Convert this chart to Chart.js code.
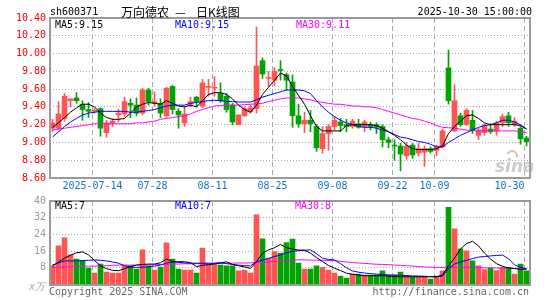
<!DOCTYPE html>
<html>
<head>
<meta charset="utf-8">
<script src="https://cdn.jsdelivr.net/npm/chart.js@4.4.1/dist/chart.umd.min.js"></script>
<style>
body { margin: 0; background: #fff; width: 545px; height: 300px; position: relative; overflow: hidden; font-family: "DejaVu Sans Mono", monospace; font-size: 10px; }
canvas { position: absolute; left: 0; top: 0; }
.t { position: absolute; white-space: pre; line-height: 12px; }
.cn { font-family: "Noto Sans CJK SC", sans-serif; font-size: 12px; line-height: 14px; }
</style>
</head>
<body>
<canvas id="kline" width="545" height="300"></canvas>
<canvas id="volume" width="545" height="300"></canvas>

<div class="t" style="left:50px;top:6px">sh600371</div>
<div class="t cn" style="left:121px;top:5px">万向德农</div>
<div class="t cn" style="left:175px;top:5px">—</div>
<div class="t cn" style="left:196px;top:5px">日K线图</div>
<div class="t" style="right:13px;top:6px">2025-10-30 15:00:00</div>

<div class="t" style="left:55px;top:19px;color:#000">MA5:9.15</div>
<div class="t" style="left:175px;top:19px;color:#0000ff">MA10:9.15</div>
<div class="t" style="left:296px;top:19px;color:#ff00ff">MA30:9.11</div>

<div class="t" style="left:55px;top:200px;color:#000">MA5:7</div>
<div class="t" style="left:175px;top:200px;color:#0000ff">MA10:7</div>
<div class="t" style="left:295px;top:200px;color:#ff00ff">MA30:8</div>

<div class="t" style="left:29px;top:281px;color:#aaa;font-style:italic">x万</div>
<div class="t" style="left:49px;top:286px;color:#666">Copyright 2025 SINA.COM</div>
<div class="t" style="right:16px;top:286px;color:#666">http://finance.sina.com.cn</div>

<script>
// 2025-07-03 .. 2025-10-30, 80 trading days
const tickIdx = [7, 17, 27, 37, 47, 57, 64, 79];
const tickText = ['2025-07-14', '07-28', '08-11', '08-25', '09-08', '09-22', '10-09', '10-30'];
const priceTicks = [8.6, 8.8, 9.0, 9.2, 9.4, 9.6, 9.8, 10.0, 10.2, 10.4];
const volTicks = [8, 16, 24, 32, 40];

const open = [9.16, 9.16, 9.27, 9.47, 9.50, 9.43, 9.37, 9.35, 9.38, 9.11,
  9.22, 9.31, 9.32, 9.44, 9.42, 9.33, 9.59, 9.44, 9.44, 9.30,
  9.63, 9.35, 9.22, 9.43, 9.51, 9.41, 9.62, 9.61, 9.55, 9.52,
  9.42, 9.20, 9.30, 9.35, 9.38, 9.92, 9.72, 9.70, 9.82, 9.76,
  9.68, 9.30, 9.21, 9.25, 9.18, 8.93, 9.10, 9.18, 9.23, 9.20,
  9.18, 9.21, 9.18, 9.20, 9.20, 9.18, 9.03, 8.97, 8.96, 8.85,
  8.97, 8.88, 8.89, 8.93, 8.91, 8.95, 9.84, 9.13, 9.30, 9.20,
  9.25, 9.08, 9.11, 9.15, 9.13, 9.22, 9.30, 9.20, 9.16, 9.05];
const high = [9.26, 9.46, 9.55, 9.49, 9.56, 9.47, 9.45, 9.38, 9.39, 9.25,
  9.27, 9.37, 9.51, 9.49, 9.50, 9.61, 9.61, 9.57, 9.49, 9.62,
  9.64, 9.38, 9.41, 9.51, 9.52, 9.71, 9.71, 9.74, 9.67, 9.55,
  9.44, 9.31, 9.40, 9.42, 10.30, 9.95, 9.80, 9.84, 9.92, 9.78,
  9.76, 9.43, 9.34, 9.36, 9.20, 9.18, 9.20, 9.29, 9.27, 9.26,
  9.26, 9.26, 9.25, 9.23, 9.22, 9.20, 9.06, 9.03, 8.99, 9.00,
  8.99, 8.99, 8.96, 8.95, 8.97, 9.15, 10.04, 9.65, 9.33, 9.38,
  9.36, 9.16, 9.21, 9.21, 9.24, 9.32, 9.34, 9.28, 9.18, 9.07];
const low = [9.12, 9.14, 9.24, 9.40, 9.44, 9.25, 9.28, 9.33, 9.07, 9.06,
  9.18, 9.23, 9.29, 9.28, 9.30, 9.31, 9.42, 9.41, 9.28, 9.28,
  9.32, 9.16, 9.18, 9.40, 9.40, 9.39, 9.52, 9.52, 9.45, 9.34,
  9.20, 9.20, 9.29, 9.33, 9.33, 9.72, 9.63, 9.64, 9.70, 9.59,
  9.17, 9.17, 9.11, 9.12, 8.90, 8.88, 8.91, 9.14, 9.12, 9.12,
  9.16, 9.16, 9.12, 9.14, 9.10, 8.95, 8.94, 8.80, 8.68, 8.81,
  8.82, 8.85, 8.73, 8.88, 8.85, 8.94, 9.43, 9.12, 9.18, 9.19,
  9.10, 9.03, 9.08, 9.10, 9.08, 9.18, 9.18, 9.18, 8.98, 8.96];
const close = [9.22, 9.32, 9.52, 9.49, 9.47, 9.37, 9.35, 9.36, 9.16, 9.22,
  9.24, 9.33, 9.46, 9.42, 9.33, 9.59, 9.46, 9.46, 9.33, 9.61,
  9.37, 9.31, 9.32, 9.46, 9.46, 9.67, 9.63, 9.62, 9.47, 9.37,
  9.23, 9.31, 9.38, 9.39, 9.86, 9.77, 9.73, 9.80, 9.81, 9.70,
  9.30, 9.21, 9.25, 9.21, 8.94, 9.10, 9.18, 9.25, 9.19, 9.18,
  9.24, 9.17, 9.23, 9.18, 9.17, 9.03, 9.00, 8.96, 8.87, 8.96,
  8.86, 8.93, 8.93, 8.90, 8.96, 9.13, 9.47, 9.47, 9.20, 9.36,
  9.14, 9.14, 9.19, 9.12, 9.22, 9.29, 9.22, 9.24, 9.04, 9.01];

const ma5 = [9.17, 9.22, 9.28, 9.34, 9.39, 9.43, 9.43, 9.40, 9.33, 9.28,
  9.26, 9.26, 9.27, 9.33, 9.40, 9.43, 9.45, 9.44, 9.43, 9.47,
  9.44, 9.41, 9.40, 9.42, 9.40, 9.47, 9.54, 9.56, 9.56, 9.54,
  9.49, 9.42, 9.37, 9.34, 9.42, 9.54, 9.62, 9.70, 9.78, 9.75,
  9.63, 9.53, 9.43, 9.30, 9.18, 9.13, 9.13, 9.13, 9.13, 9.19,
  9.20, 9.20, 9.20, 9.20, 9.19, 9.16, 9.12, 9.08, 9.03, 8.97,
  8.93, 8.92, 8.92, 8.92, 8.93, 8.96, 9.10, 9.18, 9.24, 9.30,
  9.31, 9.27, 9.22, 9.20, 9.20, 9.20, 9.20, 9.20, 9.19, 9.15];
const ma10 = [9.06, 9.12, 9.18, 9.23, 9.27, 9.31, 9.33, 9.34, 9.35, 9.35,
  9.35, 9.35, 9.35, 9.34, 9.34, 9.35, 9.36, 9.37, 9.39, 9.41,
  9.42, 9.42, 9.42, 9.44, 9.45, 9.46, 9.47, 9.475, 9.47, 9.46,
  9.46, 9.455, 9.455, 9.455, 9.48, 9.51, 9.53, 9.55, 9.57, 9.59,
  9.59, 9.59, 9.58, 9.55, 9.47, 9.40, 9.34, 9.29, 9.25, 9.22,
  9.20, 9.18, 9.17, 9.17, 9.16, 9.14, 9.12, 9.09, 9.06, 9.05,
  9.03, 9.01, 9.00, 8.98, 8.95, 8.95, 9.00, 9.04, 9.08, 9.11,
  9.14, 9.17, 9.19, 9.20, 9.22, 9.25, 9.25, 9.23, 9.20, 9.15];
const ma30 = [9.14, 9.15, 9.16, 9.17, 9.18, 9.19, 9.20, 9.21, 9.21, 9.21,
  9.21, 9.21, 9.21, 9.21, 9.22, 9.22, 9.23, 9.24, 9.26, 9.27,
  9.28, 9.29, 9.30, 9.32, 9.35, 9.37, 9.39, 9.41, 9.415, 9.42,
  9.42, 9.42, 9.425, 9.43, 9.435, 9.44, 9.46, 9.475, 9.49, 9.50,
  9.50, 9.50, 9.49, 9.48, 9.46, 9.45, 9.44, 9.43, 9.43, 9.42,
  9.41, 9.41, 9.40, 9.40, 9.39, 9.37, 9.35, 9.33, 9.31, 9.29,
  9.27, 9.26, 9.24, 9.22, 9.19, 9.17, 9.165, 9.16, 9.15, 9.14,
  9.135, 9.13, 9.13, 9.13, 9.13, 9.13, 9.13, 9.13, 9.12, 9.11];

// 成交量（万手）
const vol = [8.9, 18.5, 22.4, 14.2, 12.2, 11.4, 7.9, 5.5, 9.8, 6.0,
  5.5, 5.5, 8.9, 8.9, 7.4, 16.6, 8.9, 6.9, 8.4, 20.0,
  12.2, 7.4, 6.9, 6.9, 5.5, 17.5, 9.5, 9.5, 9.3, 8.9,
  8.9, 6.5, 6.9, 5.5, 33.4, 21.9, 12.7, 15.8, 15.0, 20.1,
  21.7, 10.3, 7.4, 7.4, 8.9, 8.2, 6.9, 5.5, 4.0, 3.1,
  5.0, 5.0, 4.5, 4.5, 4.5, 6.5, 4.5, 4.5, 6.0, 4.0,
  3.6, 4.0, 4.0, 2.6, 4.0, 6.6, 37.0, 26.7, 17.1, 16.1,
  11.3, 8.9, 7.1, 7.9, 6.7, 8.2, 8.2, 5.0, 9.8, 6.6];
const vma5 = [9.0, 10.7, 12.6, 14.0, 15.2, 15.6, 14.2, 11.5, 8.9, 7.6,
  6.8, 6.6, 7.6, 8.6, 9.3, 9.6, 9.8, 9.8, 10.4, 12.2,
  11.0, 10.9, 10.9, 10.5, 8.6, 9.2, 9.5, 9.8, 10.3, 10.9,
  9.6, 9.0, 8.4, 7.7, 11.0, 15.0, 16.6, 17.6, 19.2, 17.6,
  17.0, 16.5, 16.4, 15.0, 12.9, 11.0, 9.1, 7.8, 6.7, 5.4,
  4.9, 4.5, 4.2, 4.2, 4.2, 4.2, 4.0, 3.8, 3.7, 3.7,
  3.7, 3.7, 3.7, 3.7, 3.7, 4.5, 9.0, 12.6, 17.0, 19.6,
  20.7, 18.5, 15.0, 12.2, 10.0, 8.7, 7.9, 7.6, 7.3, 7.3];
const vma10 = [9.3, 10.3, 11.3, 11.3, 11.3, 11.4, 11.6, 11.8, 11.6, 11.3,
  10.8, 10.2, 9.0, 8.4, 8.2, 8.3, 8.5, 8.8, 9.3, 10.3,
  10.8, 10.6, 10.3, 10.2, 10.2, 10.2, 10.2, 10.2, 10.5, 10.0,
  9.6, 9.3, 9.0, 8.9, 11.0, 11.6, 12.5, 13.4, 14.1, 15.2,
  15.9, 16.2, 16.4, 16.6, 14.8, 12.6, 12.0, 11.8, 10.0, 8.0,
  6.5, 5.9, 5.5, 5.2, 5.0, 4.8, 4.6, 4.5, 4.4, 4.3,
  4.1, 4.0, 3.9, 3.8, 3.7, 4.0, 7.6, 9.8, 10.8, 11.6,
  12.4, 13.1, 13.4, 13.7, 13.9, 14.1, 12.4, 9.4, 8.2, 7.6];
const vma30 = [8.2, 8.3, 8.4, 8.5, 8.6, 8.7, 8.8, 8.8, 8.9, 9.0,
  9.2, 9.3, 9.3, 9.3, 9.3, 9.4, 9.4, 9.5, 9.6, 9.7,
  9.8, 9.8, 9.9, 9.9, 10.0, 10.0, 10.0, 10.1, 10.1, 10.2,
  10.2, 10.3, 10.3, 10.4, 10.5, 10.6, 10.8, 11.0, 11.2, 11.4,
  11.6, 11.8, 11.8, 11.7, 11.6, 11.6, 11.5, 11.4, 11.1, 10.8,
  10.5, 10.3, 10.1, 9.9, 9.7, 9.6, 9.5, 9.3, 9.2, 9.0,
  8.8, 8.6, 8.4, 8.3, 8.2, 8.2, 8.2, 8.2, 8.2, 8.2,
  8.2, 8.1, 8.0, 8.0, 7.9, 7.8, 7.8, 7.7, 7.7, 7.7];

const RED = '#ff5454';
const GREEN = '#00a400';
const GRID = '#aaaaaa';
const FONT = { family: 'DejaVu Sans Mono', size: 10 };

const idx = close.map((c, i) => i);
const barColors = idx.map(i => close[i] >= open[i] ? RED : GREEN);
const pts = arr => arr.map((v, i) => ({ x: i, y: v }));

// candle i is centred at x = 52.5 + 6i inside a 480px plot (50..530)
const X_MIN = -5 / 12;
const X_MAX = 80 - 5 / 12;

function xScale(showLabels) {
    return {
        type: 'linear',
        min: X_MIN,
        max: X_MAX,
        offset: false,
        afterBuildTicks: s => { s.ticks = tickIdx.map(i => ({ value: i - 1 / 3 })); },
        afterFit: s => {
            s.height = showLabels ? 20 : 0;
            s.paddingLeft = 0;
            s.paddingRight = 0;
        },
        grid: { color: GRID, drawTicks: false, offset: false },
        border: { display: false, dash: [5, 3] },
        ticks: {
            display: showLabels,
            color: '#0a76c6',
            font: FONT,
            padding: 2,
            maxRotation: 0,
            autoSkip: false,
            // last label sits left of its line, like the original
            callback: (v, i) => i === tickText.length - 1 ? tickText[i] + '     ' : tickText[i]
        }
    };
}

function yScale(ticks, min, max, color, fmt) {
    return {
        min: min,
        max: max,
        afterBuildTicks: s => { s.ticks = ticks.map(v => ({ value: v })); },
        afterFit: s => { s.width = 50; },
        grid: { color: GRID, drawTicks: false },
        border: { display: false, dash: [1, 2] },
        ticks: { color: color, font: FONT, padding: 4, autoSkip: false, callback: fmt }
    };
}

const frame = {
    id: 'frame',
    afterDraw(chart) {
        const a = chart.chartArea;
        const ctx = chart.ctx;
        ctx.save();
        ctx.strokeStyle = '#9a9a9a';
        ctx.lineWidth = 2;
        ctx.strokeRect(Math.round(a.left), Math.round(a.top),
            Math.round(a.right - a.left), Math.round(a.bottom - a.top));
        ctx.restore();
    }
};

const watermark = {
    id: 'watermark',
    beforeDatasetsDraw(chart) {
        const ctx = chart.ctx;
        ctx.save();
        ctx.fillStyle = '#cccccc';
        ctx.font = 'italic bold 17px "DejaVu Sans"';
        ctx.textBaseline = 'alphabetic';
        ctx.fillText('sina', 495, 172);
        ctx.strokeStyle = '#e3bcbc';
        ctx.lineWidth = 2;
        ctx.beginPath();
        ctx.arc(512, 156, 5, Math.PI * 1.1, Math.PI * 2.1);
        ctx.stroke();
        ctx.restore();
    }
};

function lineSet(arr, color) {
    return {
        type: 'line',
        data: pts(arr),
        borderColor: color,
        borderWidth: 1,
        pointRadius: 0,
        tension: 0,
        order: 1
    };
}

new Chart(document.getElementById('kline'), {
    type: 'bar',
    data: {
        datasets: [
            {
                data: idx.map(i => ({ x: i, y: [low[i], high[i]] })),
                backgroundColor: barColors,
                barThickness: 1,
                grouped: false,
                order: 3
            },
            {
                data: idx.map(i => ({ x: i, y: [open[i], close[i]] })),
                backgroundColor: barColors,
                barThickness: 5,
                minBarLength: 1,
                grouped: false,
                order: 2
            },
            lineSet(ma5, '#000000'),
            lineSet(ma10, '#0000ff'),
            lineSet(ma30, '#ff00ff')
        ]
    },
    options: {
        responsive: false,
        animation: false,
        devicePixelRatio: 1,
        layout: { padding: { top: 18, bottom: 102, left: 0, right: 15 } },
        plugins: { legend: { display: false }, tooltip: { enabled: false } },
        scales: {
            x: xScale(true),
            y: yScale(priceTicks, 8.6, 10.4, '#ff0000', v => v.toFixed(2))
        }
    },
    plugins: [watermark, frame]
});

new Chart(document.getElementById('volume'), {
    type: 'bar',
    data: {
        datasets: [
            {
                data: pts(vol),
                backgroundColor: barColors,
                barThickness: 5,
                grouped: false,
                order: 2
            },
            lineSet(vma5, '#000000'),
            lineSet(vma10, '#0000ff'),
            lineSet(vma30, '#ff00ff')
        ]
    },
    options: {
        responsive: false,
        animation: false,
        devicePixelRatio: 1,
        layout: { padding: { top: 201, bottom: 15.5, left: 0, right: 15 } },
        plugins: { legend: { display: false }, tooltip: { enabled: false } },
        scales: {
            x: xScale(false),
            y: yScale(volTicks, 0, 40, '#999999', v => String(v))
        }
    },
    plugins: [frame]
});
</script>
</body>
</html>
